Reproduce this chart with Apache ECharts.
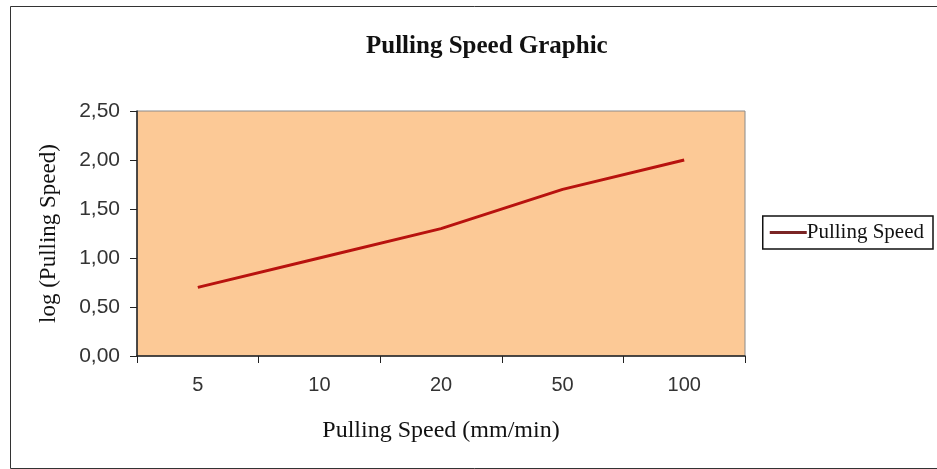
<!DOCTYPE html>
<html>
<head>
<meta charset="utf-8">
<script src="https://cdn.jsdelivr.net/npm/echarts@6/dist/echarts.min.js"></script>
<style>
html,body{margin:0;padding:0;background:#fff;}
#chart{width:937px;height:469px;}
</style>
</head>
<body>
<div id="chart"></div>
<script>
var categories = ['5', '10', '20', '50', '100'];
var logSpeed = [0.70, 1.00, 1.30, 1.70, 2.00];
var seriesName = 'Pulling Speed';
var titleText = 'Pulling Speed Graphic';
var xName = 'Pulling Speed (mm/min)';
var yName = 'log (Pulling Speed)';

var chart = echarts.init(document.getElementById('chart'));
var serif = '"Liberation Serif", "Times New Roman", serif';
var sans = '"Liberation Sans", Arial, sans-serif';
chart.setOption({
  animation: false,
  backgroundColor: '#fff',
  graphic: [{
    type: 'rect', left: 8, top: 4, z: -1,
    shape: {width: 928, height: 462},
    style: {fill: 'none', stroke: '#333', lineWidth: 1}
  }],
  title: {
    text: titleText, left: 361, top: 29,
    textStyle: {fontFamily: serif, fontWeight: 'bold', fontSize: 25, color: '#111'}
  },
  legend: {
    data: [seriesName], right: 4, top: 216,
    orient: 'vertical',
    backgroundColor: '#fff', borderColor: '#111', borderWidth: 1.5, borderRadius: 0,
    padding: [6, 9, 6, 7], itemWidth: 37, itemHeight: 3, itemGap: 0,
    icon: 'rect',
    textStyle: {fontFamily: serif, fontSize: 21, color: '#111', padding: [0, 0, 0, -5]}
  },
  grid: {
    left: 137, right: 192, top: 111, bottom: 113,
    show: true, backgroundColor: '#FCC996', borderColor: '#8a8a8a', borderWidth: 1
  },
  xAxis: {
    type: 'category', data: categories, boundaryGap: true,
    name: xName, nameLocation: 'middle', nameGap: 63,
    nameTextStyle: {fontFamily: serif, fontSize: 24, color: '#111'},
    axisLine: {lineStyle: {color: '#222', width: 1.5}},
    axisTick: {show: true, length: 7, alignWithLabel: false, lineStyle: {color: '#222'}},
    axisLabel: {fontFamily: sans, fontSize: 20, color: '#333', margin: 19}
  },
  yAxis: {
    type: 'value', min: 0, max: 2.5, interval: 0.5,
    name: yName, nameLocation: 'middle', nameGap: 77,
    nameTextStyle: {fontFamily: serif, fontSize: 23, color: '#111'},
    axisLine: {show: true, lineStyle: {color: '#222', width: 1.5}},
    axisTick: {show: true, length: 7, lineStyle: {color: '#222'}},
    splitLine: {show: false},
    axisLabel: {fontFamily: sans, fontSize: 21, color: '#333', margin: 17,
      formatter: function (v) { return v.toFixed(2).replace('.', ','); }}
  },
  series: [{
    name: seriesName, type: 'line', data: logSpeed,
    symbol: 'none', smooth: false,
    lineStyle: {color: '#B8120E', width: 3},
    itemStyle: {color: '#7A2424'}
  }]
});
</script>
</body>
</html>
